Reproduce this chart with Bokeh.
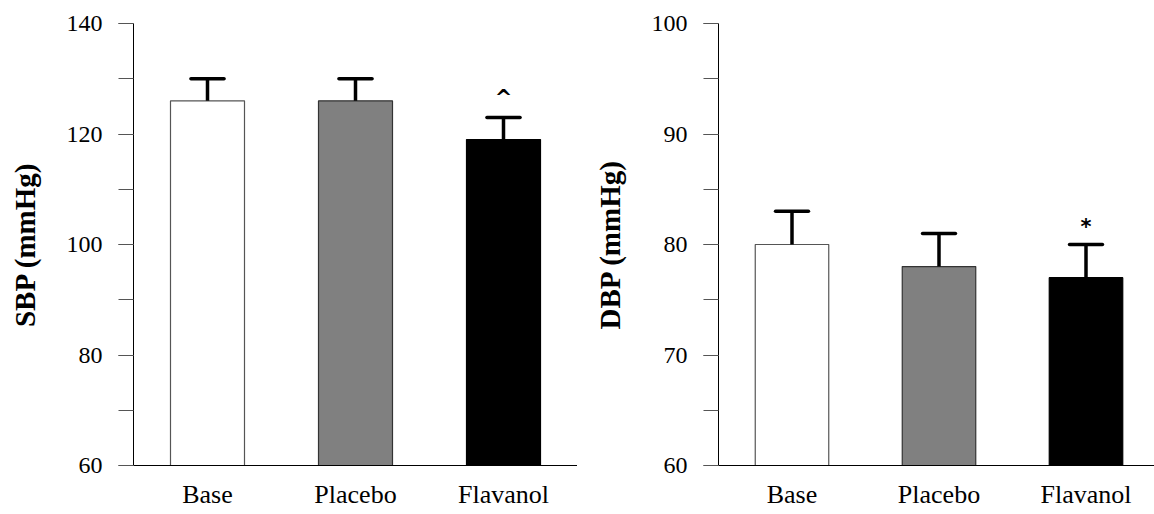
from bokeh.plotting import figure
from bokeh.layouts import row
from bokeh.models import Range1d, FixedTicker, SingleIntervalTicker, ColumnDataSource
from bokeh.core.properties import value
from bokeh.embed import file_html
from bokeh.resources import INLINE
import numpy as np

categories = ["Base", "Placebo", "Flavanol"]
sbp_mean = [126, 126, 119]
sbp_err_top = [130, 130, 123]
dbp_mean = [80, 78, 77]
dbp_err_top = [83, 81, 80]
sbp_mark = "^"
sbp_mark_y = 126.6
dbp_mark = "*"
dbp_mark_y = 81.6

fills = ["white", "#808080", "black"]
outlines = ["#555555", "#333333", "black"]
FONT = "Liberation Serif"


def make_panel(means, errs, ylabel, yr, interval, mark, mark_y, width, left_border, x_end):
    p = figure(width=width, height=513, x_range=Range1d(-0.5, x_end), y_range=Range1d(*yr),
               output_backend="svg", toolbar_location=None,
               min_border_left=left_border, min_border_right=0, min_border_top=23, min_border_bottom=48)
    p.outline_line_color = None
    p.xgrid.visible = False
    p.ygrid.visible = False
    x = np.arange(len(categories))
    src = ColumnDataSource(dict(x=x, top=means, err=errs, fill=fills, line=outlines,
                                cl=x - 0.112, cr=x + 0.112))
    p.vbar(x="x", top="top", bottom=yr[0], width=0.5, fill_color="fill", line_color="line",
           line_width=1.2, source=src)
    p.segment(x0="x", y0="top", x1="x", y1="err", line_color="black", line_width=3.5, source=src)
    p.segment(x0="cl", y0="err", x1="cr", y1="err", line_color="black", line_width=3.5,
              line_cap="round", source=src)
    p.text(x=[2], y=[mark_y], text=[mark], text_font=value("DejaVu Sans"), text_font_size="21px",
           text_font_style="bold", text_align="center", text_baseline="middle", text_color="black")

    ya = p.yaxis[0]
    ya.ticker = SingleIntervalTicker(interval=interval, num_minor_ticks=2)
    ya.major_tick_out = 15
    ya.major_tick_in = 0
    ya.minor_tick_out = 15
    ya.minor_tick_in = 0
    ya.major_tick_line_color = "#555555"
    ya.minor_tick_line_color = "#555555"
    ya.axis_line_color = "black"
    ya.major_label_text_font = FONT
    ya.major_label_text_font_size = "24px"
    ya.major_label_text_color = "black"
    ya.major_label_standoff = 16
    ya.axis_label = ylabel
    ya.axis_label_text_font = FONT
    ya.axis_label_text_font_style = "bold"
    ya.axis_label_text_font_size = "29px"
    ya.axis_label_text_color = "black"
    ya.axis_label_standoff = 23

    xa = p.xaxis[0]
    xa.ticker = FixedTicker(ticks=list(range(len(categories))))
    xa.major_label_overrides = {i: c for i, c in enumerate(categories)}
    xa.major_tick_line_color = None
    xa.major_tick_out = 0
    xa.major_tick_in = 0
    xa.minor_tick_line_color = None
    xa.minor_tick_out = 0
    xa.axis_line_color = "black"
    xa.major_label_text_font = FONT
    xa.major_label_text_font_size = "26px"
    xa.major_label_text_color = "black"
    xa.major_label_standoff = 14
    return p


p1 = make_panel(sbp_mean, sbp_err_top, "SBP (mmHg)", (60, 140), 20, sbp_mark, sbp_mark_y,
                577, 133, 2.5)
p2 = make_panel(dbp_mean, dbp_err_top, "DBP (mmHg)", (60, 100), 10, dbp_mark, dbp_mark_y,
                577, 141, 2.466)

layout = row(p1, p2)
open("out.html", "w").write(file_html(layout, INLINE))
